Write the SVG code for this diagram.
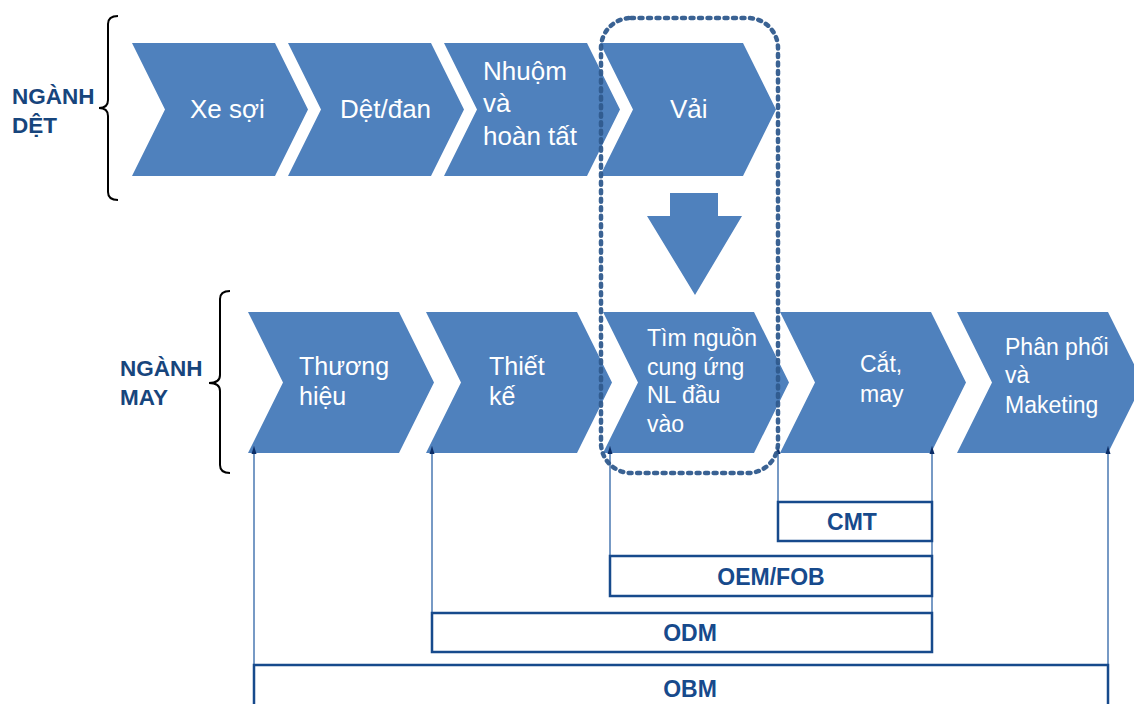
<svg xmlns="http://www.w3.org/2000/svg" width="1134" height="704" viewBox="0 0 1134 704">
  <defs>
    <style>
      .chev { fill: #4f81bd; }
      .ct { fill: #ffffff; font-family: "Liberation Sans", Arial, sans-serif; font-size: 26px; }
      .cb { fill: #ffffff; font-family: "Liberation Sans", Arial, sans-serif; font-size: 23px; }
      .lbl { fill: #17457c; font-family: "Liberation Sans", Arial, sans-serif; font-size: 22.5px; font-weight: bold; }
      .brace { fill: none; stroke: #000000; stroke-width: 2; }
      .link { fill: none; stroke: #4a78b2; stroke-width: 1.5; }
      .box { fill: #ffffff; stroke: #174a8c; stroke-width: 2.5; }
      .bt { fill: #174a8c; font-family: "Liberation Sans", Arial, sans-serif; font-size: 23px; font-weight: bold; text-anchor: middle; }
      .focus { fill: none; stroke: #2f5a8d; stroke-width: 4.5; stroke-dasharray: 3 5.5; stroke-linecap: round; opacity: 0.95; }
    </style>
    <!-- small cap at the top end of each connector, pointing back up the line -->
    <marker id="tip" viewBox="0 0 8 6" refX="0" refY="3" markerWidth="8" markerHeight="6" markerUnits="userSpaceOnUse" orient="auto">
      <path d="M0,3 L8,0.5 L8,5.5 Z" fill="#0b2d66"/>
    </marker>
  </defs>

  <!-- Left labels and braces -->
  <g id="label-det">
    <text class="lbl" x="12" y="104">NGÀNH</text>
    <text class="lbl" x="12" y="133">DỆT</text>
    <path class="brace" d="M118,16 Q108,16 108,24 L108,100 Q108,108 99,108 Q108,108 108,116 L108,192 Q108,200 118,200"/>
  </g>
  <g id="label-may">
    <text class="lbl" x="120" y="376">NGÀNH</text>
    <text class="lbl" x="120" y="405">MAY</text>
    <path class="brace" d="M230,291 Q220,291 220,299 L220,375 Q220,383 209,383 Q220,383 220,391 L220,465 Q220,473 230,473"/>
  </g>

  <!-- Textile row -->
  <g id="xe-soi">
    <polygon class="chev" points="132,43 275,43 308,109.5 275,176 132,176 165,109.5"/>
    <text class="ct" x="190" y="118">Xe sợi</text>
  </g>
  <g id="det-dan">
    <polygon class="chev" points="288,43 431,43 464,109.5 431,176 288,176 321,109.5"/>
    <text class="ct" x="340" y="118">Dệt/đan</text>
  </g>
  <g id="nhuom">
    <polygon class="chev" points="444,43 587,43 620,109.5 587,176 444,176 477,109.5"/>
    <text class="ct" x="483" y="80">Nhuộm</text>
    <text class="ct" x="483" y="112">và</text>
    <text class="ct" x="483" y="145">hoàn tất</text>
  </g>
  <g id="vai">
    <polygon class="chev" points="600,43 743,43 776,109.5 743,176 600,176 633,109.5"/>
    <text class="ct" x="670" y="118">Vải</text>
  </g>

  <!-- Down arrow from fabric to sourcing -->
  <g id="down-arrow">
    <polygon class="chev" points="670,193 718,193 718,216 742,216 695,295 647,216 670,216"/>
  </g>

  <!-- Garment row -->
  <g id="thuong-hieu">
    <polygon class="chev" points="248,312 399,312 434,382.5 399,453 248,453 283,382.5"/>
    <text class="cb" x="299" y="375" style="font-size:25px">Thương</text>
    <text class="cb" x="299" y="405" style="font-size:25px">hiệu</text>
  </g>
  <g id="thiet-ke">
    <polygon class="chev" points="426,312 577,312 612,382.5 577,453 426,453 461,382.5"/>
    <text class="cb" x="489" y="375" style="font-size:25px">Thiết</text>
    <text class="cb" x="489" y="405" style="font-size:25px">kế</text>
  </g>
  <g id="tim-nguon">
    <polygon class="chev" points="603,312 754,312 789,382.5 754,453 603,453 638,382.5"/>
    <text class="cb" x="647" y="346">Tìm nguồn</text>
    <text class="cb" x="647" y="375">cung ứng</text>
    <text class="cb" x="647" y="403">NL đầu</text>
    <text class="cb" x="647" y="432">vào</text>
  </g>
  <g id="cat-may">
    <polygon class="chev" points="780,312 931,312 966,382.5 931,453 780,453 815,382.5"/>
    <text class="cb" x="860" y="372">Cắt,</text>
    <text class="cb" x="860" y="402">may</text>
  </g>
  <g id="phan-phoi">
    <polygon class="chev" points="957,312 1108,312 1143,382.5 1108,453 957,453 992,382.5"/>
    <text class="cb" x="1005" y="355">Phân phối</text>
    <text class="cb" x="1005" y="383">và</text>
    <text class="cb" x="1005" y="413">Maketing</text>
  </g>

  <!-- Connectors from the chain down to the business models -->
  <g id="connectors">
    <line class="link" x1="254" y1="446" x2="254" y2="665" marker-start="url(#tip)"/>
    <line class="link" x1="432" y1="446" x2="432" y2="613" marker-start="url(#tip)"/>
    <line class="link" x1="610" y1="446" x2="610" y2="556" marker-start="url(#tip)"/>
    <line class="link" x1="778" y1="446" x2="778" y2="502" marker-start="url(#tip)"/>
    <line class="link" x1="932" y1="446" x2="932" y2="652" marker-start="url(#tip)"/>
    <line class="link" x1="1108" y1="446" x2="1108" y2="665" marker-start="url(#tip)"/>
  </g>

  <!-- Business model boxes -->
  <g id="cmt">
    <rect class="box" x="778" y="502" width="154" height="39"/>
    <text class="bt" x="852" y="530">CMT</text>
  </g>
  <g id="oem-fob">
    <rect class="box" x="610" y="556" width="322" height="40"/>
    <text class="bt" x="771" y="585">OEM/FOB</text>
  </g>
  <g id="odm">
    <rect class="box" x="432" y="613" width="500" height="39"/>
    <text class="bt" x="690" y="641">ODM</text>
  </g>
  <g id="obm">
    <rect class="box" x="254" y="665" width="854" height="45"/>
    <text class="bt" x="690" y="697">OBM</text>
  </g>

  <!-- Highlight around fabric and sourcing -->
  <g id="focus-frame">
    <rect class="focus" x="601" y="18" width="177" height="455" rx="30" ry="30"/>
  </g>
</svg>
